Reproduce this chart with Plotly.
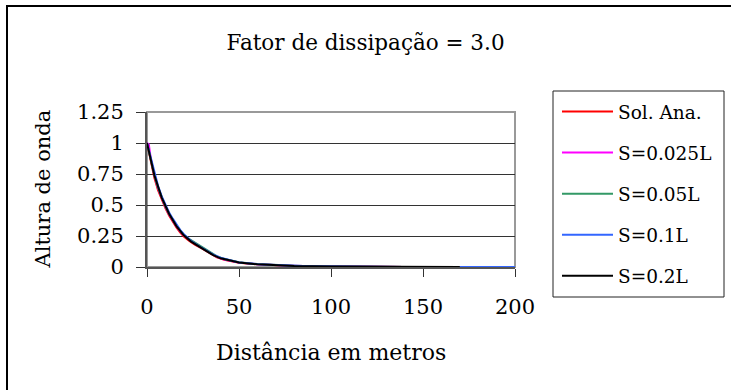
import plotly.graph_objects as go

# Figure and plot-area geometry (pixels)
W, H = 731, 390
PL, PR, PT, PB = 147, 515, 112, 267

SERIF = "DejaVu Serif"

title_text = "Fator de dissipação = 3.0"
x_title = "Distância em metros"
y_title = "Altura de onda"

x_tickvals = [0, 50, 100, 150, 200]
y_tickvals = [0, 0.25, 0.5, 0.75, 1, 1.25]
y_ticktext = ["0", "0.25", "0.5", "0.75", "1", "1.25"]

series_names = ["Sol. Ana.", "S=0.025L", "S=0.05L", "S=0.1L", "S=0.2L"]
series_colors = ["#FF0000", "#FF00FF", "#339966", "#3366FF", "#000000"]

# Sol. Ana.
x_ana = [0, 2, 4, 6, 8, 10, 12, 14, 16, 18, 20, 23, 26, 30, 35, 38, 42, 46, 50,
         60, 70, 80, 90, 100, 120, 140, 160]
y_ana = [1.00, 0.85, 0.72, 0.62, 0.545, 0.475, 0.415, 0.365, 0.32, 0.28, 0.245,
         0.21, 0.18, 0.148, 0.105, 0.078, 0.058, 0.045, 0.035,
         0.022, 0.014, 0.009, 0.006, 0.004, 0.002, 0.001, 0.0005]

# S=0.025L
x_s025 = [0, 1, 2, 4, 6, 8, 10, 12, 14, 16, 18, 20, 23, 26, 30, 35, 38, 42, 46, 50,
          60, 70, 80, 90, 100, 120, 140, 160]
y_s025 = [1.00, 0.99, 0.88, 0.74, 0.635, 0.555, 0.485, 0.425, 0.375, 0.33, 0.29, 0.255,
          0.22, 0.19, 0.155, 0.11, 0.082, 0.061, 0.047, 0.037,
          0.023, 0.015, 0.010, 0.006, 0.004, 0.002, 0.001, 0.0005]

# S=0.05L
x_s05 = [0, 2, 4, 6, 8, 10, 12, 14, 16, 18, 20, 23, 26, 30, 35, 38, 42, 46, 50,
         60, 70, 80, 90, 100, 120, 140, 160]
y_s05 = [1.00, 0.87, 0.74, 0.64, 0.56, 0.49, 0.43, 0.38, 0.335, 0.295, 0.26,
         0.225, 0.195, 0.16, 0.115, 0.086, 0.064, 0.049, 0.038,
         0.024, 0.015, 0.010, 0.006, 0.004, 0.002, 0.001, 0.0005]

# S=0.1L
x_s1 = [0, 2, 4, 6, 8, 10, 12, 14, 16, 18, 20, 24, 28, 32, 36, 40, 45, 50,
        60, 70, 80, 90, 100, 120, 140, 160, 180, 200]
y_s1 = [1.00, 0.89, 0.76, 0.655, 0.57, 0.50, 0.44, 0.39, 0.34, 0.30, 0.265,
        0.21, 0.17, 0.135, 0.10, 0.075, 0.053, 0.037,
        0.023, 0.015, 0.010, 0.006, 0.004, 0.002, 0.001, 0.0005, 0.0003, 0.0002]

# S=0.2L
x_s2 = [0, 4, 8, 12, 16, 20, 24, 28, 32, 36, 40, 45, 50, 60, 70, 80, 100, 120, 140, 170]
y_s2 = [1.00, 0.74, 0.56, 0.43, 0.33, 0.255, 0.205, 0.17, 0.135, 0.095, 0.07, 0.05,
        0.036, 0.022, 0.014, 0.009, 0.004, 0.002, 0.001, 0.0003]

series_x = [x_ana, x_s025, x_s05, x_s1, x_s2]
series_y = [y_ana, y_s025, y_s05, y_s1, y_s2]


def px_x(p):
    return (p - PL) / (PR - PL)


def px_y(p):
    return (PB - p) / (PB - PT)


fig = go.Figure()
for i, (name, color, xs, ys) in enumerate(zip(series_names, series_colors, series_x, series_y)):
    fig.add_trace(go.Scatter(
        x=xs, y=ys, mode="lines", name=name, legendgroup=f"g{i}",
        line=dict(color=color, width=2),
    ))

shapes = [
    # chart outer frame
    dict(type="rect", xref="paper", yref="paper",
         x0=px_x(7), x1=px_x(760), y0=px_y(420), y1=px_y(6),
         line=dict(color="black", width=2), layer="below"),
    # plot area border
    dict(type="rect", xref="paper", yref="paper",
         x0=0, x1=1, y0=0, y1=1,
         line=dict(color="#999999", width=2), layer="below"),
    # legend frame
    dict(type="rect", xref="paper", yref="paper",
         x0=px_x(553), x1=px_x(724), y0=px_y(297), y1=px_y(91),
         line=dict(color="#222222", width=1), layer="below"),
]

annotations = [
    dict(text=x_title, xref="paper", yref="paper", x=0.5, y=px_y(352),
         xanchor="center", yanchor="middle", showarrow=False,
         font=dict(family=SERIF, size=22, color="black")),
    dict(text=y_title, xref="paper", yref="paper", x=px_x(42), y=0.5,
         xanchor="center", yanchor="middle", showarrow=False, textangle=-90,
         font=dict(family=SERIF, size=21, color="black")),
]

fig.update_layout(
    width=W, height=H, autosize=False,
    margin=dict(l=PL, r=W - PR, t=PT, b=H - PB, pad=0, autoexpand=False),
    paper_bgcolor="white", plot_bgcolor="white",
    font=dict(family=SERIF, size=21, color="black"),
    title=dict(text=title_text, x=0.5, xref="container", xanchor="center",
               y=1 - 42 / H, yref="container", yanchor="middle",
               font=dict(family=SERIF, size=21.5, color="black")),
    xaxis=dict(range=[0, 200], tickvals=x_tickvals, ticks="outside", ticklen=8,
               tickcolor="#333333", tickwidth=1, showline=True, linecolor="#555555",
               linewidth=2, showgrid=False, zeroline=False, ticklabelstandoff=12,
               tickfont=dict(family=SERIF, size=21, color="black")),
    yaxis=dict(range=[0, 1.25], tickvals=y_tickvals, ticktext=y_ticktext,
               ticks="outside", ticklen=9, tickcolor="#333333", tickwidth=1,
               showline=True, linecolor="#555555", linewidth=2,
               showgrid=True, gridcolor="#333333", gridwidth=1, zeroline=False,
               ticklabelstandoff=8,
               tickfont=dict(family=SERIF, size=21, color="black")),
    legend=dict(x=px_x(557), y=px_y(93), xanchor="left", yanchor="top",
                bgcolor="rgba(0,0,0,0)", borderwidth=0, tracegroupgap=14,
                itemwidth=51, maxheight=320,
                font=dict(family=SERIF, size=18.5, color="black")),
    shapes=shapes,
    annotations=annotations,
)

fig.write_html("out.html")
